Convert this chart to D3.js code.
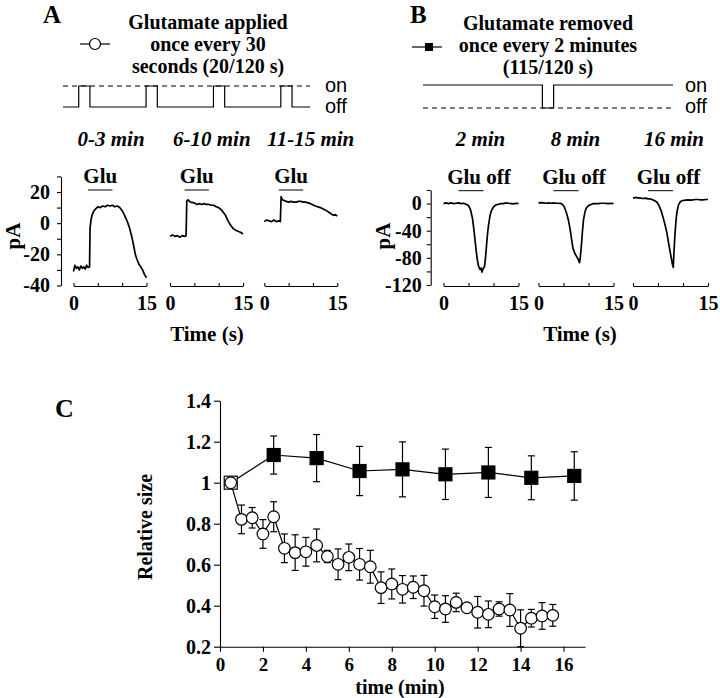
<!DOCTYPE html>
<html><head><meta charset="utf-8">
<script src="https://cdn.jsdelivr.net/npm/d3@7"></script>
<style>
body{margin:0;background:#fff;}
svg text{font-family:"Liberation Serif","Times New Roman",serif;font-weight:bold;fill:#000;}
svg text.sans{font-family:"Liberation Sans",Arial,sans-serif;font-weight:normal;}
svg text.it{font-style:italic;}
</style></head><body>
<svg id="c" width="720" height="698"></svg>
<script>
// ---------------- DATA ----------------
// Protocol diagrams (seconds in a 120-s cycle)
const pulseOnA = [7, 37, 67, 97];      // glutamate applied
const pulseOffB = [53];                 // glutamate removed
const pulseDur = 5;
const cycleEndA = 110, cycleEndB = 111;

const legendA = ["Glutamate applied", "once every 30", "seconds (20/120 s)"];
const legendB = ["Glutamate removed", "once every 2 minutes", "(115/120 s)"];
const titlesA = ["0-3 min", "6-10 min", "11-15 min"];
const titlesB = ["2 min", "8 min", "16 min"];
const yTicksA = [-40, -30, -20, -10, 0, 10, 20, 30];
const yLabelsA = [-40, -20, 0, 20];
const yTicksB = [-120, -100, -80, -60, -40, -20, 0, 20];
const yLabelsB = [-120, -80, -40, 0];
const xTicksTrace = [0, 5, 10, 15];
const xLabelsTrace = [0, 15];
const gluWindow = [3, 8];

// current traces [time (s), current (pA)]
const traceA1 = [[0,-31],[0.3,-27],[0.6,-29],[0.9,-28],[1.2,-30],[1.5,-27.5],[1.8,-29],[2.1,-28],[2.4,-29.5],[2.7,-27],[3.0,-28.5],[3.3,-28],[3.4,-3],[3.6,2],[3.8,5],[4.1,7.5],[4.5,9],[5,10.5],[5.5,10],[6,11],[6.5,10.5],[7,11.5],[7.5,11],[8,11.5],[8.5,10.5],[9,11],[9.5,10],[10,8],[10.5,5],[11,1.5],[11.5,-3],[12,-9],[12.4,-15],[12.7,-20],[13,-23],[13.4,-26],[13.8,-28],[14.2,-30],[14.6,-33],[15,-35]];
const traceA2 = [[0,-8.5],[0.5,-7.5],[1,-8.5],[1.5,-8],[2,-9],[2.5,-8],[3,-8.5],[3.3,-8],[3.45,14],[3.7,15],[4.2,13.5],[5,13],[5.5,12],[6,12.5],[6.5,12],[7,12.5],[7.5,12],[8,12],[8.5,11.5],[9,11.5],[9.5,10.5],[10,10],[10.7,8],[11.4,5],[12,1],[12.5,-1.5],[13,-3.5],[13.5,-4.5],[14.2,-5.5],[14.6,-6],[15,-7]];
const traceA3 = [[0,1],[0.5,2],[1,1.5],[1.5,1],[2,2],[2.5,1],[3,1.5],[3.3,1],[3.45,17],[3.7,15],[4.5,14],[5,13.5],[5.5,14],[6,13.5],[6.5,13.5],[7,14],[7.5,14],[8,13.5],[8.5,13.5],[9,13],[9.5,12.5],[10.5,11],[11.5,10],[12.5,8.5],[13.5,6.5],[14.2,5],[14.6,5.5],[15,4.5]];
const traceB1 = [[0,0],[0.5,1],[1,0],[1.5,1],[2,0],[2.5,0.5],[3,1],[3.5,0],[4,0.5],[4.5,-1],[5,-3],[5.4,-9],[5.8,-22],[6.1,-40],[6.4,-60],[6.7,-80],[7,-92],[7.3,-97],[7.5,-95],[7.7,-101],[7.9,-96],[8.2,-93],[8.4,-80],[8.6,-62],[8.8,-45],[9.0,-32],[9.3,-18],[9.6,-10],[10,-5],[10.5,-2],[11,-1],[11.5,0],[12,0],[12.5,1],[13,0.5],[13.5,0],[14,-0.5],[14.5,0.5],[15,0]];
const traceB2 = [[0,1],[0.5,1.5],[1,1],[1.5,0.5],[2,1],[2.5,0.5],[3,1],[3.5,0.5],[4,0.5],[4.6,0],[5.1,-4],[5.6,-14],[6,-25],[6.3,-37],[6.6,-52],[6.9,-66],[7.3,-74],[7.7,-79],[8,-83],[8.2,-87],[8.35,-80],[8.6,-60],[8.8,-40],[9,-24],[9.3,-12],[9.6,-6],[10,-3],[10.6,-1],[11,0],[12,0],[12.5,0.5],[13,0.5],[14,0],[14.5,0.5],[15,0]];
const traceB3 = [[0,8],[0.5,9],[1,8.5],[1.5,8],[2,7.5],[2.5,8],[3,7],[3.4,7],[3.8,6],[4.4,4],[4.8,2],[5.2,-3],[5.6,-10],[6,-20],[6.4,-31],[6.8,-44],[7.2,-62],[7.6,-78],[7.9,-90],[8.05,-94],[8.2,-70],[8.4,-45],[8.6,-25],[8.8,-12],[9.1,-2],[9.5,3],[10,4.5],[10.5,5],[11,5.5],[11.5,5],[12,5.5],[12.5,6],[13,6],[13.5,5.5],[14,5.5],[14.5,6],[15,6]];

// Panel C: relative response size vs time (min)
const timeCircle = [0.5,1,1.5,2,2.5,3,3.5,4,4.5,5,5.5,6,6.5,7,7.5,8,8.5,9,9.5,10,10.5,11,11.5,12,12.5,13,13.5,14,14.5,15,15.5];
const circleMean = [1.0,0.821,0.829,0.75,0.834,0.68,0.659,0.663,0.694,0.64,0.602,0.636,0.602,0.59,0.488,0.506,0.48,0.49,0.473,0.395,0.384,0.416,0.39,0.368,0.358,0.384,0.379,0.29,0.339,0.35,0.353];
const circleErr  = [0,0.07,0.05,0.07,0.073,0.07,0.087,0.07,0.08,0.03,0.075,0.065,0.077,0.08,0.077,0.073,0.067,0.055,0.075,0.057,0.065,0.045,0.02,0.077,0.065,0.035,0.08,0.09,0.043,0.065,0.053];
const timeSquare = [0.5,2.5,4.5,6.5,8.5,10.5,12.5,14.5,16.5];
const squareMean = [1.0,1.135,1.12,1.057,1.065,1.041,1.05,1.024,1.033];
const squareErr  = [0,0.093,0.115,0.12,0.134,0.123,0.122,0.107,0.118];
const cYTicks = [0.2,0.4,0.6,0.8,1,1.2,1.4];
const cYTickLabels = ["0.2","0.4","0.6","0.8","1","1.2","1.4"];
const cXTicks = [0,2,4,6,8,10,12,14,16];

// ---------------- DRAW ----------------
const svg = d3.select("#c");
const K = "#000";
function styleAxis(g, size){
  g.attr("font-family", null).attr("font-size", size);
  g.selectAll("path,line").attr("stroke", K).attr("stroke-width", 1.1);
}
function txt(x, y, s, size, anchor, cls){
  return svg.append("text").attr("x", x).attr("y", y).attr("font-size", size)
    .attr("text-anchor", anchor || "start").attr("class", cls || null).text(s);
}

// ---- panel letters
txt(43, 23, "A", 25);
txt(410, 23, "B", 25);
txt(55, 417, "C", 26);

// ---- legends
legendA.forEach((s,i)=> txt(208, 28.5 + i*22, s, 20, "middle"));
legendB.forEach((s,i)=> txt(548, 29.5 + i*22, s, 20, "middle"));
svg.append("line").attr("x1",80).attr("x2",110).attr("y1",44).attr("y2",44).attr("stroke",K).attr("stroke-width",1.2);
svg.append("circle").attr("cx",95).attr("cy",44).attr("r",5.5).attr("fill","#fff").attr("stroke",K).attr("stroke-width",1.2);
svg.append("line").attr("x1",412).attr("x2",442).attr("y1",47).attr("y2",47).attr("stroke",K).attr("stroke-width",1.2);
svg.append("rect").attr("x",425).attr("y",43).attr("width",8).attr("height",8).attr("fill",K);

// ---- protocol diagrams
function protocol(x0, x1, tEnd, onY, offY, pulses, startState, dashedState){
  const tS = d3.scaleLinear().domain([0, tEnd]).range([x0, x1]);
  const sY = d3.scaleLinear().domain([0,1]).range([offY, onY]);
  const st = [[0, startState]];
  pulses.forEach(p => { st.push([p, 1-startState]); st.push([p+pulseDur, startState]); });
  st.push([tEnd, startState]);
  svg.append("line").attr("x1", tS(0)).attr("x2", tS(tEnd))
    .attr("y1", sY(dashedState)).attr("y2", sY(dashedState))
    .attr("stroke", K).attr("stroke-width", 1).attr("stroke-dasharray", "5,4");
  svg.append("path").datum(st)
    .attr("d", d3.line().x(d=>tS(d[0])).y(d=>sY(d[1])).curve(d3.curveStepAfter))
    .attr("fill","none").attr("stroke",K).attr("stroke-width",1.2);
}
protocol(63, 310, cycleEndA, 86, 107, pulseOnA, 0, 1);
protocol(423, 673, cycleEndB, 85, 108, pulseOffB, 1, 0);
txt(325, 92, "on", 20, "start", "sans");
txt(325, 113, "off", 20, "start", "sans");
txt(685, 92, "on", 20, "start", "sans");
txt(685, 113, "off", 20, "start", "sans");

// ---- traces
function tracePanel(cfg){
  const y = d3.scaleLinear().domain(cfg.yDom).range(cfg.yRange);
  svg.append("g").attr("transform", `translate(${cfg.yAxisX},0)`)
    .call(d3.axisLeft(y).tickValues(cfg.yTicks).tickSize(4).tickPadding(cfg.pad).tickSizeOuter(0)
      .tickFormat(d => cfg.yLabels.includes(d) ? String(d) : ""))
    .call(styleAxis, 20);
  svg.append("text").attr("transform", `translate(${cfg.pAx},${cfg.pAy}) rotate(-90)`)
    .attr("text-anchor","middle").attr("font-size",21).text("pA");
  cfg.traces.forEach((tr, i) => {
    const x0 = cfg.x0[i];
    const x = d3.scaleLinear().domain([0,15]).range([x0, x0 + cfg.w]);
    svg.append("g").attr("transform", "translate(0,286)")
      .call(d3.axisBottom(x).tickValues(xTicksTrace).tickSize(-3).tickPadding(10).tickSizeOuter(0)
        .tickFormat(d => xLabelsTrace.includes(d) ? String(d) : ""))
      .call(styleAxis, 20);
    svg.append("path").datum(tr)
      .attr("d", d3.line().x(d=>x(d[0])).y(d=>y(d[1])))
      .attr("fill","none").attr("stroke",K).attr("stroke-width",1.7).attr("stroke-linejoin","round");
    svg.append("line").attr("x1", x(gluWindow[0])).attr("x2", x(gluWindow[1]))
      .attr("y1", cfg.barY).attr("y2", cfg.barY).attr("stroke", K).attr("stroke-width", 1);
    txt(x(gluWindow[0]) + (x(gluWindow[1]) - x(gluWindow[0]))/2 + cfg.gluOff, cfg.gluY, cfg.gluText, 21, "middle");
    txt(x0 + cfg.titleOff[i], 146, cfg.titles[i], 21, cfg.titleAnchor, "it");
  });
  txt(cfg.timeX, 341, "Time (s)", 21, "middle");
}
tracePanel({yDom:[-40,30], yRange:[285.5,176.4], yAxisX:61, yTicks:yTicksA, yLabels:yLabelsA, pad:7,
  pAx:20, pAy:236, traces:[traceA1,traceA2,traceA3], x0:[73.5,170,264.3], w:73,
  barY:190, gluY:183, gluText:"Glu", gluOff:0, titles:titlesA, titleOff:[4,3,3], titleAnchor:"start", timeX:207});
tracePanel({yDom:[-120,20], yRange:[285,190], yAxisX:430.7, yTicks:yTicksB, yLabels:yLabelsB, pad:5,
  pAx:390, pAy:236, traces:[traceB1,traceB2,traceB3], x0:[443.5,538.5,633], w:75,
  barY:190.7, gluY:184, gluText:"Glu off", gluOff:8, titles:titlesB, titleOff:[37,37,41], titleAnchor:"middle", timeX:580});

// ---- panel C
const cx = d3.scaleLinear().domain([0,17]).range([220,585]);
const cy = d3.scaleLinear().domain([0.2,1.4]).range([646.7,400.7]);
svg.append("g").attr("transform","translate(220,0)")
  .call(d3.axisLeft(cy).tickValues(cYTicks).tickSize(6).tickPadding(3).tickSizeOuter(0)
    .tickFormat((d,i)=>cYTickLabels[i]))
  .call(styleAxis, 20);
svg.append("g").attr("transform","translate(0,646.7)")
  .call(d3.axisBottom(cx).tickValues(cXTicks).tickSize(5).tickPadding(6).tickSizeOuter(0))
  .call(styleAxis, 19);
txt(400, 694, "time (min)", 20, "middle");
svg.append("text").attr("transform","translate(152,527) rotate(-90)")
  .attr("text-anchor","middle").attr("font-size",20).text("Relative size");

const sq = timeSquare.map((t,i)=>({t, m:squareMean[i], e:squareErr[i], i}));
const ci = timeCircle.map((t,i)=>({t, m:circleMean[i], e:circleErr[i], i}));
const ln = d3.line().x(d=>cx(d.t)).y(d=>cy(d.m));
svg.append("path").datum(sq).attr("d",ln).attr("fill","none").attr("stroke",K).attr("stroke-width",1.2);
svg.append("path").datum(ci).attr("d",ln).attr("fill","none").attr("stroke",K).attr("stroke-width",1.2);
function errBars(data){
  const g = svg.append("g").attr("stroke",K).attr("stroke-width",1.2);
  data.filter(d=>d.e>0).forEach(d=>{
    const x = cx(d.t), y0 = cy(d.m - d.e), y1 = cy(d.m + d.e);
    g.append("line").attr("x1",x).attr("x2",x).attr("y1",y0).attr("y2",y1);
    g.append("line").attr("x1",x-3.5).attr("x2",x+3.5).attr("y1",y0).attr("y2",y0);
    g.append("line").attr("x1",x-3.5).attr("x2",x+3.5).attr("y1",y1).attr("y2",y1);
  });
}
errBars(sq); errBars(ci);
svg.append("g").selectAll("rect").data(sq).join("rect")
  .attr("x",d=>cx(d.t)-6.5).attr("y",d=>cy(d.m)-6.5).attr("width",13).attr("height",13)
  .attr("fill",d=>d.i===0?"#fff":K).attr("stroke",K).attr("stroke-width",1.2);
svg.append("g").selectAll("circle").data(ci).join("circle")
  .attr("cx",d=>cx(d.t)).attr("cy",d=>cy(d.m)).attr("r",5.8)
  .attr("fill","#fff").attr("stroke",K).attr("stroke-width",1.2);
</script></body></html>
